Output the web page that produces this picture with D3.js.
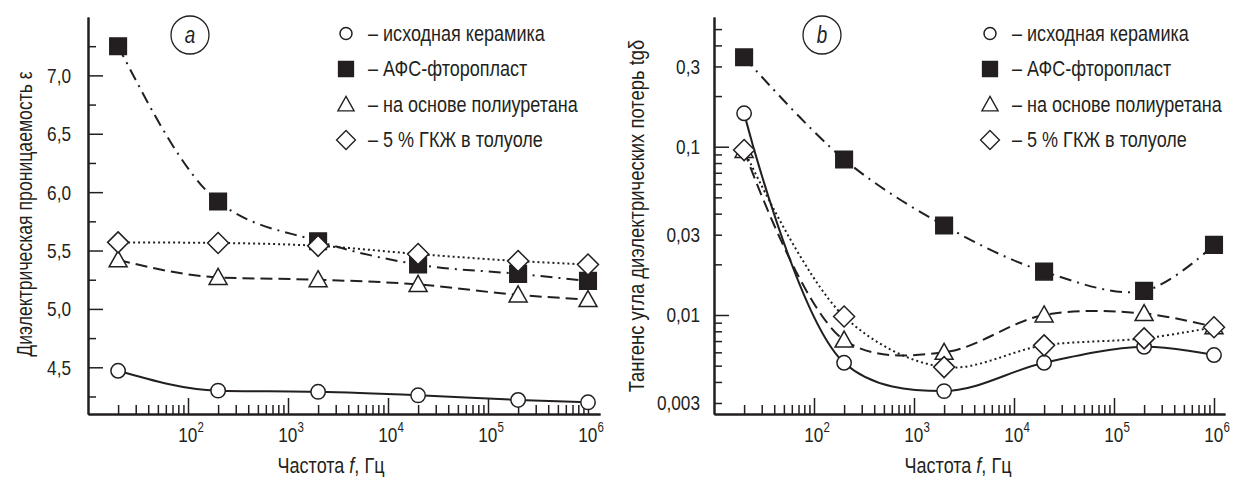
<!DOCTYPE html>
<html>
<head>
  <meta charset="utf-8">
  <title>Диэлектрические свойства керамики</title>
  <script src="https://cdn.jsdelivr.net/npm/d3@7"></script>
  <style>
    body { margin: 0; background: #fff; }
    svg text { font-family: 'Liberation Sans', Arial, sans-serif; fill: #231f20; }
  </style>
</head>
<body>
<div id="container"></div>

<script>
  // частоты измерений, Гц
  var freq = [20, 200, 2000, 20000, 200000, 1000000];

  // (a) диэлектрическая проницаемость
  var epsCeramic = [4.47, 4.30, 4.29, 4.26, 4.22, 4.20];
  var epsAfs     = [7.25, 5.92, 5.58, 5.38, 5.30, 5.24];
  var epsPu      = [5.42, 5.27, 5.25, 5.21, 5.12, 5.08];
  var epsGkzh    = [5.57, 5.565, 5.54, 5.47, 5.41, 5.38];

  // (b) тангенс угла потерь
  var tgCeramic = [0.158, 0.0052, 0.00353, 0.0052, 0.00647, 0.00578];
  var tgAfs     = [0.34, 0.084, 0.034, 0.0181, 0.0139, 0.0261];
  var tgPu      = [0.095, 0.0071, 0.006, 0.0100, 0.0102, 0.0085];
  var tgGkzh    = [0.0955, 0.0098, 0.0049, 0.0066, 0.00726, 0.00845];

  var legendLabels = ["– исходная керамика", "– АФС-фторопласт", "– на основе полиуретана", "– 5 % ГКЖ в толуоле"];
  var epsTicks = [4.5, 5.0, 5.5, 6.0, 6.5, 7.0];
  var epsMinor = [4.25, 4.75, 5.25, 5.75, 6.25, 6.75, 7.25];
  var tgTicks = [0.003, 0.01, 0.03, 0.1, 0.3];
  var tgMajor = [0.01, 0.1];
  var tgMinor = [0.003, 0.004, 0.005, 0.006, 0.007, 0.008, 0.009,
                 0.02, 0.03, 0.04, 0.05, 0.06, 0.07, 0.08, 0.09,
                 0.2, 0.3, 0.4, 0.5];
  var xMajor = [100, 1000, 10000, 100000, 1000000];

  var ink = "#231f20";
  var narrow = 0.82;   // Liberation Sans squeezed to look like a narrow grotesque
  var svg = d3.select("#container").append("svg").attr("width", 1234).attr("height", 477);

  var styles = [
    {type: "circle",   dash: null},
    {type: "square",   dash: "12,6,2,6"},
    {type: "triangle", dash: "12,6"},
    {type: "diamond",  dash: "2,3"}
  ];

  function txt(g, x, y, size, anchor, rot) {
    return g.append("text")
      .attr("transform", "translate(" + x + "," + y + ")" + (rot ? " rotate(" + rot + ")" : "") + " scale(" + narrow + ",1)")
      .attr("text-anchor", anchor || "start")
      .attr("font-size", size);
  }

  function markerPath(type) {
    if (type == "square") return "M-8.3,-8.3H8.3V8.3H-8.3Z";
    if (type == "triangle") return "M0,-9L9,7H-9Z";
    if (type == "diamond") return "M0,-10.5L10.5,0L0,10.5L-10.5,0Z";
    return null;
  }

  function drawMarker(g, type, x, y, r) {
    if (type == "circle") {
      g.append("circle").attr("cx", x).attr("cy", y).attr("r", r || 7.2)
        .attr("fill", "#fff").attr("stroke", ink).attr("stroke-width", 1.5);
    } else {
      g.append("path").attr("d", markerPath(type))
        .attr("transform", "translate(" + x + "," + y + ")" + (r ? " scale(" + r + ")" : ""))
        .attr("fill", type == "square" ? ink : "#fff")
        .attr("stroke", ink).attr("stroke-width", 1.5);
    }
  }

  function minorTicks(lo, hi) {
    var out = [];
    for (var e = lo; e < hi; e++) {
      for (var m = 2; m <= 9; m++) out.push(m * Math.pow(10, e));
    }
    return out;
  }

  function tickAxis(g, axis, tr) {
    g.append("g").attr("transform", tr).call(axis.tickSizeOuter(0).tickFormat(""))
      .call(s => s.select(".domain").attr("stroke", ink).attr("stroke-width", 2))
      .call(s => s.selectAll(".tick line").attr("stroke", ink).attr("stroke-width", 1.5));
  }

  function drawPanel(opt) {
    var g = svg.append("g");
    var x = d3.scaleLog().domain([10, Math.pow(10, opt.xMaxExp)]).range([opt.x0, opt.x1]);
    var y = opt.y;

    // x axis ticks point inward
    tickAxis(g, d3.axisBottom(x).tickValues(minorTicks(1, 6)).tickSize(-9), "translate(0,414)");
    tickAxis(g, d3.axisBottom(x).tickValues(xMajor).tickSize(-16), "translate(0,414)");
    xMajor.forEach(function(d) {
      var t = txt(g, x(d) + 3, 442, 21, "middle");
      t.append("tspan").text("10");
      t.append("tspan").attr("dy", -10).attr("font-size", 14).text(Math.round(Math.log10(d)));
    });

    // y axis
    tickAxis(g, d3.axisLeft(y).tickValues(opt.yMinor).tickSize(-8), "translate(" + opt.x0 + ",0)");
    tickAxis(g, d3.axisLeft(y).tickValues(opt.yMajor).tickSize(-15), "translate(" + opt.x0 + ",0)");
    opt.yLabels.forEach(function(d) {
      txt(g, opt.x0 - opt.yPad, y(d) + 7.5, 21, "end").text(opt.yFormat(d));
    });

    // axis titles
    var xt = txt(g, opt.xTitleX, 473, 22, "middle");
    xt.append("tspan").text("Частота ");
    xt.append("tspan").attr("font-style", "italic").text("f");
    xt.append("tspan").text(", Гц");
    txt(g, opt.yTitleX, opt.yTitleY, opt.yTitleSize, "middle", -90).text(opt.yTitle);

    // curves
    var line = d3.line().x(d => x(d[0])).y(d => y(d[1])).curve(opt.curve);
    opt.series.forEach(function(vals, i) {
      g.append("path").attr("d", line(freq.map((f, j) => [f, vals[j]])))
        .attr("fill", "none").attr("stroke", ink).attr("stroke-width", 2)
        .attr("stroke-dasharray", styles[i].dash);
    });
    // markers (triangles drawn before diamonds)
    [0, 1, 2, 3].forEach(function(i) {
      opt.series[i].forEach(function(v, j) {
        drawMarker(g, styles[i].type, x(freq[j]), y(v));
      });
    });

    // panel tag
    g.append("circle").attr("cx", opt.tagX).attr("cy", 35).attr("r", 19)
      .attr("fill", "none").attr("stroke", ink).attr("stroke-width", 1.3);
    txt(g, opt.tagX, 43, 23, "middle").attr("font-style", "italic").text(opt.tag);

    // legend
    legendLabels.forEach(function(lbl, i) {
      var ly = 33.5 + i * 35.5;
      drawMarker(g, styles[i].type, opt.legX, ly, styles[i].type == "circle" ? 6 : 0.9);
      txt(g, opt.legX + 22, ly + 7, 22, "start").text(lbl);
    });
  }

  var yEps = d3.scaleLinear().domain([4.1, 7.5]).range([414, 17]);
  drawPanel({
    x0: 88, x1: 600, xMaxExp: 6.12, y: yEps,
    yMajor: epsTicks, yMinor: epsMinor, yLabels: epsTicks, yPad: 17,
    yFormat: d => d.toFixed(1).replace(".", ","),
    xTitleX: 331, yTitleX: 32, yTitleY: 214, yTitleSize: 21.5,
    yTitle: "Диэлектрическая проницаемость ε",
    series: [epsCeramic, epsAfs, epsPu, epsGkzh],
    curve: d3.curveMonotoneX,
    tag: "a", tagX: 190, legX: 346
  });

  var yTg = d3.scaleLog().domain([0.00258, 0.59]).range([414, 17]);
  drawPanel({
    x0: 714, x1: 1225, xMaxExp: 6.11, y: yTg,
    yMajor: tgMajor, yMinor: tgMinor, yLabels: tgTicks, yPad: 14,
    yFormat: d => String(d).replace(".", ","),
    xTitleX: 958, yTitleX: 644, yTitleY: 216, yTitleSize: 22.5,
    yTitle: "Тангенс угла диэлектрических потерь tgδ",
    series: [tgCeramic, tgAfs, tgPu, tgGkzh],
    curve: d3.curveCatmullRom.alpha(0.5),
    tag: "b", tagX: 822, legX: 990
  });
</script>
</body>
</html>
